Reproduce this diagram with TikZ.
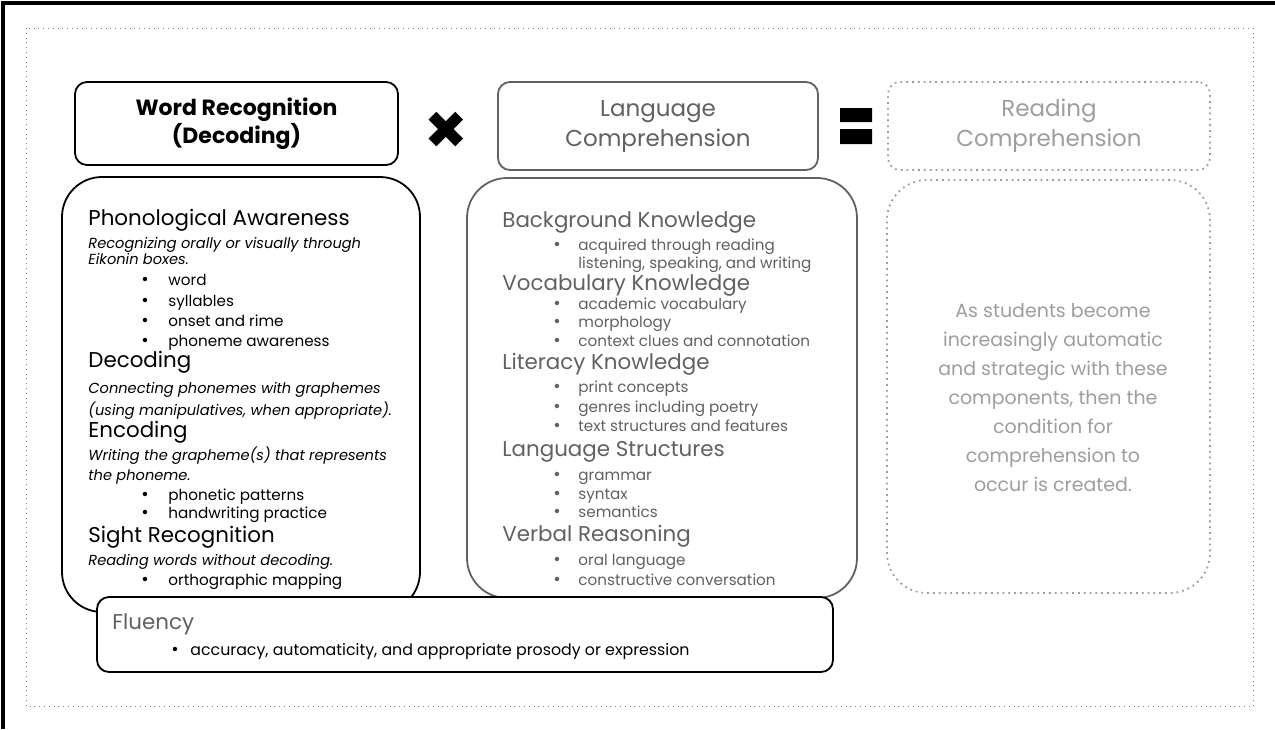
\documentclass[tikz,border=0pt]{standalone}
\usepackage{fontspec}
\setmainfont{Poppins}
\newfontfamily\symbolfont{DejaVu Sans}
\definecolor{midgray}{gray}{0.38}
\definecolor{palegray}{gray}{0.62}

\tikzset{
  topbox/.style={draw,rounded corners=6pt,line width=0.9pt,inner sep=0pt,align=center},
  block/.style={draw,rounded corners=20pt,line width=0.9pt,inner sep=0pt},
  head/.style={anchor=mid west,inner sep=0pt,font=\fontsize{10.7}{12}\selectfont},
  note/.style={anchor=mid west,inner sep=0pt,font=\fontsize{7.3}{8}\selectfont\itshape},
  itemtext/.style={anchor=mid west,inner sep=0pt,font=\fontsize{7.6}{8}\selectfont},
  bulletmark/.style={anchor=mid,inner sep=0pt,font=\fontsize{9}{9}\selectfont},
}

\begin{document}
\begin{tikzpicture}[x=0.5pt,y=-0.5pt]
\useasboundingbox (0,0) rectangle (1275,729);
\fill[white] (0,0) rectangle (1275,729);
\draw[line width=1.6pt] (3,729) -- (3,3) -- (1275,3);
\draw[dotted,gray] (26,28) rectangle (1253,706);

% top row: word x language = reading
\node[topbox,minimum width=161.5pt,minimum height=41.5pt,%
      font=\fontsize{11}{14}\selectfont\bfseries] (word) at (236.5,123.5)
      {Word Recognition\\(Decoding)};
\node[inner sep=0pt,font=\symbolfont\fontsize{26}{26}\selectfont] (times) at (446,130) {✖};
\node[topbox,midgray,minimum width=160pt,minimum height=44pt,%
      font=\fontsize{11.5}{15}\selectfont] (lang) at (658,126)
      {Language\\Comprehension};
\fill (840,108) rectangle (872,122) (840,129) rectangle (872,144);
\node[topbox,palegray,dotted,minimum width=161pt,minimum height=44pt,%
      font=\fontsize{11.5}{15}\selectfont] (read) at (1049,126)
      {Reading\\Comprehension};

% the three blocks
\node[block,minimum width=179pt,minimum height=217.5pt] (wr) at (241,394.5) {};
\node[block,midgray,minimum width=195pt,minimum height=210pt] (lc) at (662,388) {};
\node[block,palegray,dotted,minimum width=161.5pt,minimum height=206.5pt] (rc) at (1048.5,386.5) {};

% word recognition
\node[head] (pa) at (88,220) {Phonological Awareness};
\node[note] (pa1) at (88,243) {Recognizing orally or visually through};
\node[note] (pa2) at (88,259) {Eikonin boxes.};
\node[head] (dec) at (88,362) {Decoding};
\node[note] (dec1) at (88,388) {Connecting phonemes with graphemes};
\node[note] (dec2) at (88,410) {(using manipulatives, when appropriate).};
\node[head] (enc) at (88,432) {Encoding};
\node[note] (enc1) at (88,455) {Writing the grapheme(s) that represents};
\node[note] (enc2) at (88,475) {the phoneme.};
\node[head] (sr) at (88,537) {Sight Recognition};
\node[note] (sr1) at (88,560) {Reading words without decoding.};
\foreach \y/\t in {280/word,301/syllables,321/onset and rime,341/phoneme awareness,%
                   495/phonetic patterns,513/handwriting practice,580/orthographic mapping}
  {\node[bulletmark] (lb\y) at (145,\y) {•};
   \node[itemtext] (li\y) at (168,\y) {\t};}

% language comprehension
\begin{scope}[midgray]
\foreach \y/\t in {222/Background Knowledge,285/Vocabulary Knowledge,364/Literacy Knowledge,%
                   451/Language Structures,536/Verbal Reasoning}
  \node[head] (mh\y) at (502,\y) {\t};
\foreach \y/\t in {245/acquired through reading,304/academic vocabulary,322/morphology,%
                   341/context clues and connotation,387/print concepts,407/genres including poetry,%
                   426/text structures and features,475/grammar,494/syntax,512/semantics,%
                   560/oral language,580/constructive conversation}
  {\node[bulletmark] (mb\y) at (557,\y) {•};
   \node[itemtext] (mi\y) at (578,\y) {\t};}
\node[itemtext] (mi263) at (578,263) {listening, speaking, and writing};
\end{scope}

% reading comprehension
\node[palegray,align=center,font=\fontsize{9.5}{14.5}\selectfont] (cond) at (1053,398)
  {As students become\\increasingly automatic\\and strategic with these\\components, then the\\%
   condition for\\comprehension to\\occur is created.};

% fluency
\node[topbox,fill=white,minimum width=368pt,minimum height=37.5pt] (flu) at (465,634.5) {};
\node[head,midgray] (fl) at (112,624) {Fluency};
\node[bulletmark] (fb) at (175,650) {•};
\node[itemtext,font=\fontsize{7.9}{8}\selectfont] (ft) at (190,650)
  {accuracy, automaticity, and appropriate prosody or expression};
\end{tikzpicture}
\end{document}
